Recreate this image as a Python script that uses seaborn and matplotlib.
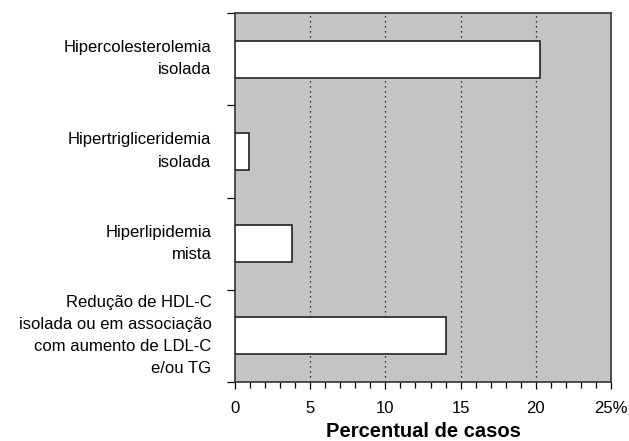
import pandas as pd
import matplotlib.pyplot as plt
import matplotlib.transforms as mtransforms
import seaborn as sns
import numpy as np
from matplotlib.ticker import MultipleLocator, FixedLocator

# --------------------------------------------------
# data
# --------------------------------------------------

categorias = [
    "Hipercolesterolemia\nisolada",
    "Hipertrigliceridemia\nisolada",
    "Hiperlipidemia\nmista",
    "Redução de HDL-C\nisolada ou em associação\ncom aumento de LDL-C\ne/ou TG",
]
percentual = [20.3, 0.9, 3.8, 14.0]
xticks = [0, 5, 10, 15, 20, 25]
xtick_labels = ["0", "5", "10", "15", "20", "25%"]

df = pd.DataFrame({"Categoria": categorias, "Percentual": percentual})

# --------------------------------------------------
# plotting
# --------------------------------------------------

sns.set_style("ticks")
plt.rcParams["font.family"] = ["Liberation Sans", "DejaVu Sans"]
plt.rcParams["text.color"] = "black"
plt.rcParams["xtick.color"] = "black"
plt.rcParams["ytick.color"] = "black"
plt.rcParams["axes.labelcolor"] = "black"

fig = plt.figure(figsize=(6.29, 4.41), dpi=100)
ax = fig.add_axes([0.3736, 0.1338, 0.5978, 0.8367])
ax.set_facecolor("#c4c4c4")

sns.barplot(x="Percentual", y="Categoria", data=df, orient="h", width=0.4,
            color="white", edgecolor="#222222", linewidth=1.2, ax=ax, zorder=3)

ax.set_xlim(0, 25)
ax.set_ylim(3.5, -0.5)
for v in [5, 10, 15, 20]:
    ax.axvline(v, color="black", linestyle=(0, (1, 3)), linewidth=0.9, zorder=2)

ax.xaxis.set_major_locator(FixedLocator(xticks))
ax.set_xticklabels(xtick_labels, fontsize=12)
ax.xaxis.set_minor_locator(MultipleLocator(1))
ax.tick_params(axis="x", which="major", length=5, width=0.9, pad=9)
ax.tick_params(axis="x", which="minor", length=4, width=0.9)

# boundary ticks on y, labels at centers
ax.yaxis.set_major_locator(FixedLocator([-0.5, 0.5, 1.5, 2.5, 3.5]))
ax.set_yticklabels([])
ax.yaxis.set_minor_locator(FixedLocator([0, 1, 2, 3]))
ax.set_yticklabels(categorias, minor=True, fontsize=12, linespacing=1.6)
ax.tick_params(axis="y", which="major", length=6, width=0.9)
ax.tick_params(axis="y", which="minor", length=0, pad=17)
shift = mtransforms.ScaledTranslation(0, 4 / 72, fig.dpi_scale_trans)
for lab in ax.get_yticklabels(minor=True):
    lab.set_transform(lab.get_transform() + shift)

for s in ax.spines.values():
    s.set_linewidth(1.2)
    s.set_color("#333333")

ax.set_xlabel("Percentual de casos", fontsize=14.5, fontweight="bold", labelpad=4)
ax.set_ylabel("")

plt.savefig("out.png", dpi=100)
